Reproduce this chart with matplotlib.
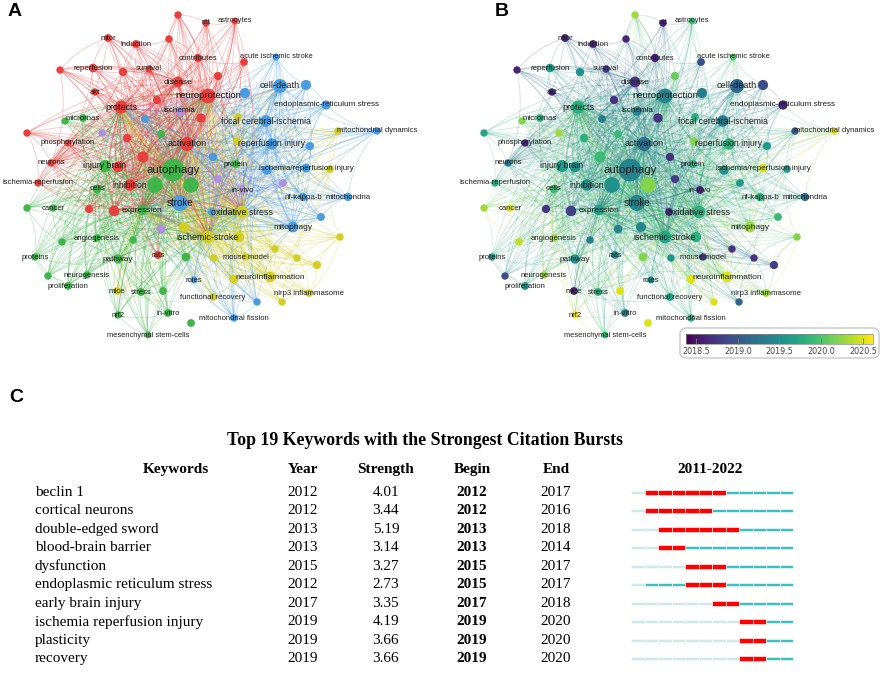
import numpy as np
import matplotlib
matplotlib.use("Agg")
import matplotlib.pyplot as plt
from matplotlib.collections import LineCollection
from matplotlib.patches import FancyBboxPatch
import matplotlib.colors as mcolors

# ---------------- keyword network (same layout in A and B) ----------------
labels = ["autophagy", "neuroprotection", "activation", "stroke", "protects",
          "cell-death", "disease", "ischemia", "endoplasmic-reticulum stress",
          "focal cerebral-ischemia", "micrornas", "mitochondrial dynamics",
          "phosphorylation", "reperfusion injury", "neurons", "injury brain",
          "protein", "ischemia/reperfusion injury", "ischemia-reperfusion", "cells",
          "inhibition", "in-vivo", "nf-kappa-b", "mitochondria", "cancer",
          "expression", "oxidative stress", "mitophagy", "ischemic-stroke",
          "angiogenesis", "proteins", "pathway", "rats", "mouse model",
          "neurogenesis", "neuroinflammation", "roles", "proliferation", "mice",
          "stress", "functional recovery", "nlrp3 inflammasome", "nrf2", "in-vitro",
          "mitochondrial fission", "mesenchymal stem-cells", "rat", "astrocytes",
          "mtor", "induction", "contributes", "acute ischemic stroke", "reperfusion",
          "survival", "akt",
          "", "", "", "", "", "", "", "", "", "", "", "", "", "", "", "", "", "",
          "", "", "", "", "", "", "", "", "", "", "", "", "", "", "", "", "", "",
          "", "", "", "", "", "", "", "", "", "", "", "", "", ""]
node_x = [173, 208, 187, 180, 121, 280, 178, 180, 326, 266, 83, 377, 68, 272, 51,
          105, 236, 306, 38, 97, 130, 243, 303, 348, 53, 142, 242, 293, 208, 97,
          35, 118, 158, 246, 87, 270, 194, 68, 117, 141, 213, 309, 118, 168, 234,
          148, 206, 235, 108, 136, 198, 276, 93, 149, 95,
          178, 169, 244, 60, 123, 218, 306, 245, 157, 145, 201, 238, 65, 102, 161,
          27, 127, 338, 237, 310, 143, 213, 118, 267, 330, 155, 191, 218, 283, 27,
          89, 114, 212, 321, 161, 184, 239, 340, 62, 133, 275, 186, 214, 297, 317,
          48, 234, 163, 257, 282, 191]
node_y = [170, 96, 144, 203, 107, 86, 82, 111, 105, 121, 118, 131, 143, 144, 163,
          166, 164, 168, 183, 189, 185, 190, 197, 197, 208, 210, 212, 227, 237, 238,
          257, 259, 255, 257, 275, 277, 280, 286, 291, 292, 297, 293, 315, 313, 318,
          335, 23, 21, 38, 44, 58, 57, 68, 69, 92,
          15, 39, 62, 70, 72, 76, 85, 93, 100, 119, 118, 117, 121, 133, 134,
          133, 138, 131, 141, 146, 157, 157, 167, 170, 169, 185, 185, 179, 183, 208,
          209, 211, 212, 217, 229, 227, 237, 237, 242, 240, 249, 257, 258, 258, 265,
          276, 279, 291, 302, 302, 323]
weight = [100, 35, 30, 42, 24, 30, 14, 10, 9, 17, 5, 4, 4, 17, 4,
          20, 6, 8, 4, 7, 17, 5, 6, 6, 4, 13, 22, 14, 22, 5,
          4, 9, 5, 4, 4, 14, 3, 5, 5, 5, 5, 5, 4, 5, 4,
          3, 4, 3, 5, 5, 6, 3, 7, 4, 4,
          4, 4, 5, 4, 6, 6, 12, 12, 6, 5, 9, 5, 4, 4, 5,
          4, 6, 4, 5, 6, 16, 6, 14, 10, 5, 40, 38, 6, 5, 4,
          6, 13, 5, 5, 7, 11, 13, 4, 4, 4, 4, 7, 4, 4, 6,
          4, 8, 5, 4, 4, 5]
cluster = ["g", "r", "r", "b", "r", "b", "r", "p", "b", "b", "g", "b", "r", "b", "r",
           "g", "g", "b", "r", "g", "r", "p", "b", "b", "g", "g", "y", "b", "y", "g",
           "g", "g", "r", "y", "g", "y", "b", "g", "y", "g", "y", "y", "g", "g", "b",
           "g", "r", "r", "r", "r", "r", "b", "r", "r", "r",
           "r", "r", "r", "r", "r", "r", "b", "b", "r", "b", "r", "y", "g", "p", "g",
           "r", "r", "y", "y", "b", "r", "b", "r", "b", "y", "g", "g", "p", "p", "g",
           "r", "r", "b", "b", "p", "y", "y", "y", "g", "g", "y", "g", "y", "y", "y",
           "g", "y", "g", "b", "y", "g"]
avg_year = [2019.4, 2019.4, 2019.2, 2019.4, 2019.8, 2019.1, 2018.7, 2019.4, 2018.6,
            2019.3, 2019.8, 2020.5, 2018.6, 2019.8, 2019.3, 2019.6, 2019.8, 2020.5,
            2019.8, 2019.9, 2019.5, 2018.6, 2019.8, 2019.2, 2020.5, 2019.6, 2019.8,
            2020.3, 2019.7, 2020.3, 2019.6, 2019.5, 2019.5, 2018.7, 2020.3, 2020.5,
            2019.4, 2019.6, 2018.6, 2019.8, 2019.7, 2020.3, 2020.6, 2019.4, 2019.8,
            2019.9, 2018.6, 2019.9, 2018.6, 2018.6, 2018.6, 2020.0, 2019.6, 2018.7,
            2018.6,
            2020.3, 2018.6, 2018.9, 2018.6, 2019.5, 2020.1, 2018.9, 2019.3, 2018.7,
            2019.3, 2018.7, 2019.8, 2020.2, 2020.3, 2019.9, 2019.7, 2019.8, 2019.0,
            2020.2, 2019.6, 2019.9, 2018.7, 2019.5, 2019.5, 2019.6, 2019.5, 2020.2,
            2018.8, 2019.6, 2020.3, 2018.7, 2018.8, 2018.6, 2019.9, 2019.4, 2019.4,
            2019.8, 2020.2, 2020.4, 2019.3, 2018.7, 2020.2, 2019.5, 2018.7, 2018.8,
            2018.9, 2020.5, 2020.5, 2020.5, 2019.1, 2020.5]

global_hubs = ["autophagy", "neuroprotection", "activation", "stroke",
               "ischemic-stroke", "oxidative stress", "protects", "expression"]
cluster_hubs = {"r": ["protects", "disease", "inhibition", "neurons"],
                "g": ["injury brain", "expression", "cells", "pathway"],
                "b": ["cell-death", "focal cerebral-ischemia", "reperfusion injury",
                      "mitophagy"],
                "y": ["oxidative stress", "ischemic-stroke", "neuroinflammation"],
                "p": ["ischemia", "in-vivo"]}

cluster_colors = {"r": "#e8403f", "g": "#3fb54c", "b": "#4a9be0",
                  "y": "#d2cf22", "p": "#b08fe0"}

# ---------------- citation bursts ----------------
keywords = ["beclin 1", "cortical neurons", "double-edged sword", "blood-brain barrier",
            "dysfunction", "endoplasmic reticulum stress", "early brain injury",
            "ischemia reperfusion injury", "plasticity", "recovery"]
kw_year = [2012, 2012, 2013, 2013, 2015, 2012, 2017, 2019, 2019, 2019]
strength = [4.01, 3.44, 5.19, 3.14, 3.27, 2.73, 3.35, 4.19, 3.66, 3.66]
begin = [2012, 2012, 2013, 2013, 2015, 2015, 2017, 2019, 2019, 2019]
end = [2017, 2016, 2018, 2014, 2017, 2017, 2018, 2020, 2020, 2020]
first_year, last_year = 2011, 2022

W, H = 886, 674
fig = plt.figure(figsize=(W / 100, H / 100), dpi=100)
fig.patch.set_facecolor("white")

x = np.array(node_x, float)
y = np.array(node_y, float)
w = np.array(weight, float)
yr_arr = np.array(avg_year, float)
n = len(labels)
idx = {l: i for i, l in enumerate(labels) if l}

# links: every keyword to the main hubs, its own cluster's hubs and
# its closest neighbours of the same cluster
edges = {}


def add_edge(i, j):
    if i == j:
        return
    key = (min(i, j), max(i, j))
    edges[key] = i if w[i] <= w[j] else j


for i in range(n):
    for h in global_hubs + cluster_hubs[cluster[i]]:
        add_edge(i, idx[h])
    same = [j for j in range(n) if cluster[j] == cluster[i] and j != i]
    dist = sorted(same, key=lambda j: (x[j] - x[i]) ** 2 + (y[j] - y[i]) ** 2)
    for j in dist[:3]:
        add_edge(i, j)


def curve(i, j, bend=0.15, m=18):
    p0 = np.array([x[i], y[i]])
    p1 = np.array([x[j], y[j]])
    d = p1 - p0
    c = (p0 + p1) / 2 + bend * np.array([-d[1], d[0]])
    t = np.linspace(0, 1, m)[:, None]
    return (1 - t) ** 2 * p0 + 2 * (1 - t) * t * c + t ** 2 * p1


segs = [curve(i, j) for (i, j) in edges]
srcs = [s for s in edges.values()]

norm = mcolors.Normalize(2018.38, 2020.62)
cmap = plt.get_cmap("viridis")


def draw_network(ax, node_cols, edge_cols):
    ax.set_xlim(0, 430)
    ax.set_ylim(350, 0)
    ax.axis("off")
    lw = [1.1 if (w[a] > 12 and w[b] > 12) else 0.6 for (a, b) in edges]
    ax.add_collection(LineCollection(segs, colors=edge_cols, linewidths=lw,
                                     zorder=1))
    order = np.argsort(w)
    r = 0.95 * np.sqrt(w) + 1.8
    ax.scatter(x[order], y[order], s=(2 * r[order] * 0.72) ** 2,
               c=[node_cols[k] for k in order], linewidths=0, zorder=2)
    for i in range(n):
        if labels[i]:
            ax.text(x[i], y[i], labels[i], ha="center", va="center",
                    fontsize=4.8 + 0.34 * np.sqrt(w[i]), color="#1e1e1e",
                    family="Liberation Sans", zorder=3, clip_on=False)


# panel A: clusters
ax_a = fig.add_axes([0, 1 - 350 / H, 430 / W, 350 / H])
col_a = [cluster_colors[c] for c in cluster]
ecol_a = [mcolors.to_rgba(cluster_colors[cluster[s]], 0.3) for s in srcs]
draw_network(ax_a, col_a, ecol_a)

# panel B: average publication year overlay (links take the mean of both ends)
ax_b = fig.add_axes([457 / W, 1 - 350 / H, 430 / W, 350 / H])
col_b = [cmap(norm(v)) for v in avg_year]
ecol_b = []
for (a, b) in edges:
    rgba = list(cmap(norm((yr_arr[a] + yr_arr[b]) / 2 + 0.15)))
    rgba[3] = 0.22
    ecol_b.append(tuple(rgba))
draw_network(ax_b, col_b, ecol_b)

# colour scale box
fig.patches.append(FancyBboxPatch((680 / W, 1 - 358 / H), 199 / W, 30 / H,
                                  boxstyle="round,pad=0,rounding_size=0.008",
                                  transform=fig.transFigure, facecolor="white",
                                  edgecolor="#c8c8c8", linewidth=1.0, zorder=-1))
cax = fig.add_axes([686 / W, 1 - 344 / H, 187 / W, 10 / H])
cax.set_zorder(5)
cb = fig.colorbar(plt.cm.ScalarMappable(norm=norm, cmap=cmap), cax=cax,
                  orientation="horizontal")
cb.set_ticks([2018.5, 2019.0, 2019.5, 2020.0, 2020.5])
cb.ax.set_xticklabels(["2018.5", "2019.0", "2019.5", "2020.0", "2020.5"])
cb.ax.tick_params(direction="in", length=4, width=0.6, color="#777777",
                  labelsize=5.8, labelcolor="#444444", pad=2.5)
cb.outline.set_edgecolor("#888888")
cb.outline.set_linewidth(0.5)

for lab, px, py in [("A", 15, 12), ("B", 502, 11), ("C", 16, 397)]:
    fig.text(px / W, 1 - py / H, lab, fontsize=14, fontweight="bold",
             family="Liberation Sans", ha="center", va="center")

# ---------------- panel C table ----------------
rows = len(keywords)
ax_t = fig.add_axes([0, 1 - 668 / H, 1, 185 / H])
ax_t.set_xlim(0, W)
ax_t.set_ylim(rows - 0.5, -0.5)
ax_t.axis("off")
serif = "Liberation Serif"
fs = 11
ax_t.text(425, -2.8, "Top 19 Keywords with the Strongest Citation Bursts",
          ha="center", va="center", fontsize=12.8, fontweight="bold", family=serif)
for txt, cx in [("Keywords", 176), ("Year", 303), ("Strength", 386),
                ("Begin", 472), ("End", 556), ("2011-2022", 710)]:
    ax_t.text(cx, -1.25, txt, ha="center", va="center", fontsize=fs,
              fontweight="bold", family=serif)
for i in range(rows):
    ax_t.text(35, i, keywords[i], ha="left", va="center", fontsize=fs, family=serif)
    ax_t.text(303, i, str(kw_year[i]), ha="center", va="center", fontsize=fs,
              family=serif)
    ax_t.text(386, i, f"{strength[i]:.2f}", ha="center", va="center", fontsize=fs,
              family=serif)
    ax_t.text(472, i, str(begin[i]), ha="center", va="center", fontsize=fs,
              fontweight="bold", family=serif)
    ax_t.text(556, i, str(end[i]), ha="center", va="center", fontsize=fs,
              family=serif)

ax_bar = fig.add_axes([631 / W, 1 - 668 / H, 162 / W, 185 / H])
ax_bar.set_xlim(first_year, last_year + 1)
ax_bar.set_ylim(rows - 0.5, -0.5)
ax_bar.axis("off")
years = np.arange(first_year, last_year + 1)
for i in range(rows):
    for yr in years:
        if begin[i] <= yr <= end[i]:
            col, hgt = "#ff0000", 0.28
        elif yr >= kw_year[i]:
            col, hgt = "#3cbfc2", 0.17
        else:
            col, hgt = "#cfe9e9", 0.17
        ax_bar.barh(i, 1, left=yr, height=hgt, color=col, edgecolor="white",
                    linewidth=0.4)

fig.savefig("out.png", dpi=100, facecolor="white")
